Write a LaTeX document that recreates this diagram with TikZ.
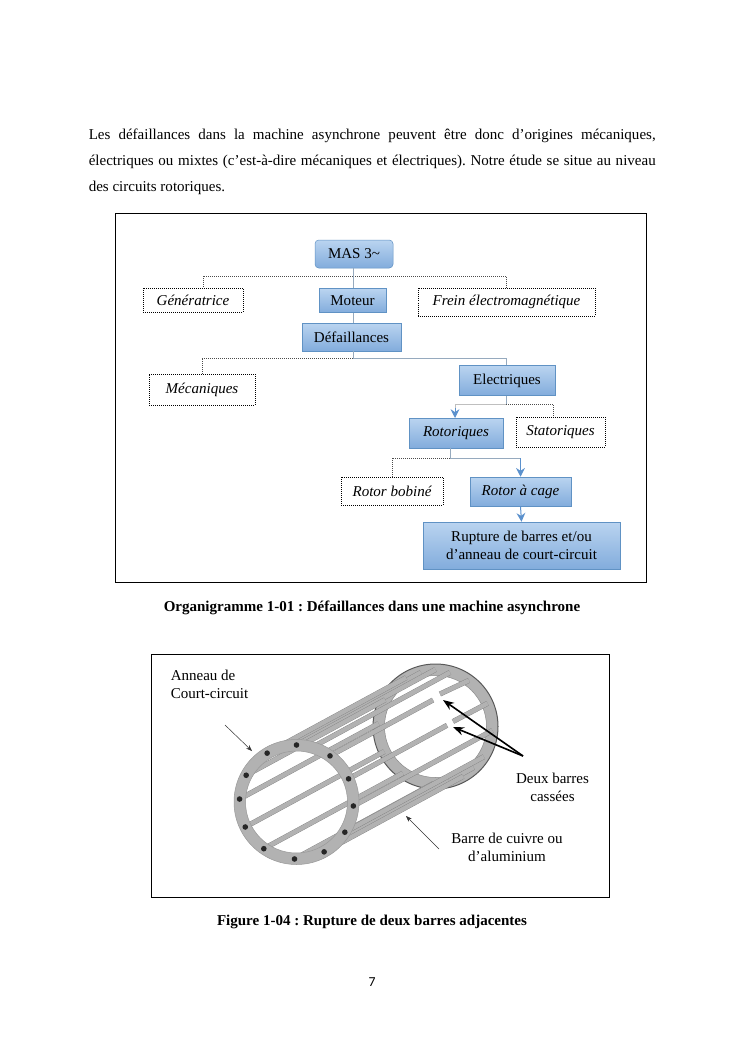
\documentclass[tikz,border=0pt,12pt]{standalone}
\usepackage{fontspec}
\setmainfont{Liberation Serif}
\newfontfamily\pagefont{Carlito}
\usepackage{tikz}
\usetikzlibrary{arrows.meta, calc}
\newdimen\pxu
\pxu=0.799pt
\definecolor{boxtop}{RGB}{186,212,240}
\definecolor{boxbot}{RGB}{130,172,220}
\definecolor{boxline}{RGB}{96,146,196}
\definecolor{linkblue}{RGB}{91,145,205}
\definecolor{linkgray}{RGB}{150,170,190}
\frenchspacing

\begin{document}
\begin{tikzpicture}[x=1\pxu,y=-1\pxu,>=Stealth,
    bluebox/.style={rectangle,top color=boxtop,bottom color=boxbot,draw=boxline,inner sep=0pt,align=center},
    dotbox/.style={rectangle,draw=black,densely dotted,semithick,fill=white,inner sep=0pt,font=\itshape},
    solidlink/.style={draw=linkgray,semithick},
    dotlink/.style={draw=black!70,densely dotted,semithick},
    bluelink/.style={draw=linkblue,thick,-{Stealth[length=7pt,width=7pt]}},
    bodyline/.style={anchor=west,inner sep=0pt},
    caption/.style={inner sep=0pt,font=\bfseries},
    cagetext/.style={inner sep=0pt,align=center},
    cagebar/.style={draw=black!50,double=black!30,double distance=4.4\pxu,line width=0.35\pxu},
    ring/.style={fill=black!30,even odd rule}]
  \useasboundingbox (0,0) rectangle (745,1053);
  \fill[white] (0,0) rectangle (745,1053);
  % body text
  \node[bodyline] (ligneA) at (88.5,135.5) {\makebox[453pt][s]{Les défaillances dans la machine asynchrone peuvent être donc d’origines mécaniques,}};
  \node[bodyline] (ligneB) at (88.5,161.5) {\makebox[453pt][s]{électriques ou mixtes (c’est-à-dire mécaniques et électriques). Notre étude se situe au niveau}};
  \node[bodyline] (ligneC) at (88.5,187.5) {des circuits rotoriques.};
  % frames
  \draw[black,semithick] (115,213) rectangle (646.5,582.5);
  \draw[black,semithick] (151,654) rectangle (609,897);
  % tree boxes
  \node[bluebox,rounded corners=3pt,minimum width=78\pxu,minimum height=28\pxu] (mas) at (354,254) {MAS 3\textasciitilde};
  \node[dotbox,minimum width=100\pxu,minimum height=24\pxu] (gen) at (193,300) {Génératrice};
  \node[bluebox,minimum width=67\pxu,minimum height=24\pxu] (moteur) at (352.5,300.5) {Moteur};
  \node[dotbox,minimum width=177\pxu,minimum height=28\pxu] (frein) at (506.5,302) {Frein électromagnétique};
  \node[bluebox,minimum width=99\pxu,minimum height=28\pxu] (defail) at (351.5,337) {Défaillances};
  \node[dotbox,minimum width=106\pxu,minimum height=31\pxu] (meca) at (202,389.5) {Mécaniques};
  \node[bluebox,minimum width=96\pxu,minimum height=30\pxu] (elec) at (507,380.5) {Electriques};
  \node[bluebox,minimum width=94\pxu,minimum height=30\pxu,font=\itshape] (roto) at (456,433) {Rotoriques};
  \node[dotbox,minimum width=89\pxu,minimum height=30\pxu] (stato) at (560.5,432) {Statoriques};
  \node[dotbox,minimum width=102\pxu,minimum height=28\pxu] (bobine) at (392,491) {Rotor bobiné};
  \node[bluebox,minimum width=101\pxu,minimum height=29\pxu,font=\itshape] (cage) at (520.5,491.5) {Rotor à cage};
  \node[bluebox,minimum width=197\pxu,minimum height=47\pxu] (rupture) at (521.5,545.5) {Rupture de barres et/ou\\d’anneau de court-circuit};
  % branch points
  \coordinate (brMas) at (353,276);
  \coordinate (genT) at (203,288);
  \coordinate (brDef) at (353,358);
  \coordinate (brElec) at (506,404);
  \coordinate (rotoT) at (455,418);
  \coordinate (statoT) at (553,417);
  \coordinate (brRoto) at (450,458);
  % tree links
  \draw[dotlink] (brMas) -| (genT);
  \draw[dotlink] (brMas) -| (frein.north);
  \draw[solidlink] (mas.south -| brMas) -- (moteur.north -| brMas);
  \draw[solidlink] (moteur.south -| brMas) -- (defail.north -| brMas);
  \draw[solidlink] (defail.south -| brDef) -- (brDef);
  \draw[dotlink] (brDef) -| (meca.north);
  \draw[solidlink] (brDef) -| (elec.north -| brElec);
  \draw[solidlink] (elec.south -| brElec) -- (brElec);
  \draw[dotlink] (brElec) -| (statoT);
  \draw[solidlink,draw=black!25,thick] (brElec) -| ($(rotoT)+(0,-8)$);
  \draw[bluelink] ($(rotoT)+(0,-10)$) -- (rotoT);
  \draw[solidlink] (roto.south -| brRoto) -- (brRoto);
  \draw[dotlink] (brRoto) -| (bobine.north);
  \draw[solidlink] (brRoto) -- (brRoto -| cage.north);
  \draw[bluelink] (brRoto -| cage.north) -- (cage.north);
  \draw[bluelink] (cage.south) -- (rupture.north);
  % cage
  \coordinate (cfront) at (296.5,802);
  \coordinate (cback) at (435.5,726.5);
  \fill[ring] (cback) circle (62.5) (cback) circle (51);
  \draw[black!65,thick] (cback) circle (62.5);
  \draw[black!45,thin] (cback) circle (51);
  % bars behind the edges
  \foreach \a in {-105,-75,47,76}{
    \draw[cagebar] ($(cfront)+(\a:56)$) -- ($(cback)+(\a:56)$);}
  \foreach \a in {-90,-121,-152,-177,154,125,92,61,32,4}{
    \draw[cagebar] ($(cfront)+(\a:57)$) -- ($(cback)+(\a:57)$);}
  % broken bars
  \draw[cagebar] ($(cfront)+(-54:57)$) -- (433,700);
  \draw[cagebar] (440,694) -- ($(cback)+(-54:57)$);
  \draw[cagebar] ($(cfront)+(-24:57)$) -- (447,725.3);
  \draw[cagebar] (453,721.5) -- ($(cback)+(-24:57)$);
  % front ring
  \fill[ring] (cfront) circle (62.5) (cfront) circle (51);
  \draw[black!40,thin] (cfront) circle (62.5);
  \draw[black!40,thin] (cfront) circle (51);
  \foreach \a in {-90,-54,-24,4,32,61,92,125,154,-177,-152,-121}{
    \fill[black!85] ($(cfront)+(\a:57)$) circle (2.8);}
  % cage labels
  \node[inner sep=0pt,align=left,anchor=north west] (anneau) at (170.5,670) {Anneau de\\Court-circuit};
  \node[cagetext] (deux) at (552.5,787) {Deux barres\\cassées};
  \node[cagetext] (barre) at (507,847) {Barre de cuivre ou\\d’aluminium};
  % cage arrows
  \coordinate (anneauA) at (225,725);
  \coordinate (anneauB) at (252,751);
  \coordinate (barreA) at (439,849);
  \coordinate (barreB) at (406,816);
  \coordinate (casseA) at (523,756);
  \coordinate (casseB) at (443,700);
  \coordinate (casseC) at (453,727);
  \draw[->,thin,black!80] (anneauA) -- (anneauB);
  \draw[->,thin,black!80] (barreA) -- (barreB);
  \draw[->,line width=1.3pt] (casseA) -- (casseB);
  \draw[->,line width=1.3pt] (casseA) -- (casseC);
  % captions
  \node[caption] (orga) at (372,607.5) {Organigramme 1-01 : Défaillances dans une machine asynchrone};
  \node[caption] (figcap) at (372,922) {Figure 1-04 : Rupture de deux barres adjacentes};
  \node[inner sep=0pt,font=\pagefont\small] (page) at (372,982.5) {7};
\end{tikzpicture}
\end{document}
